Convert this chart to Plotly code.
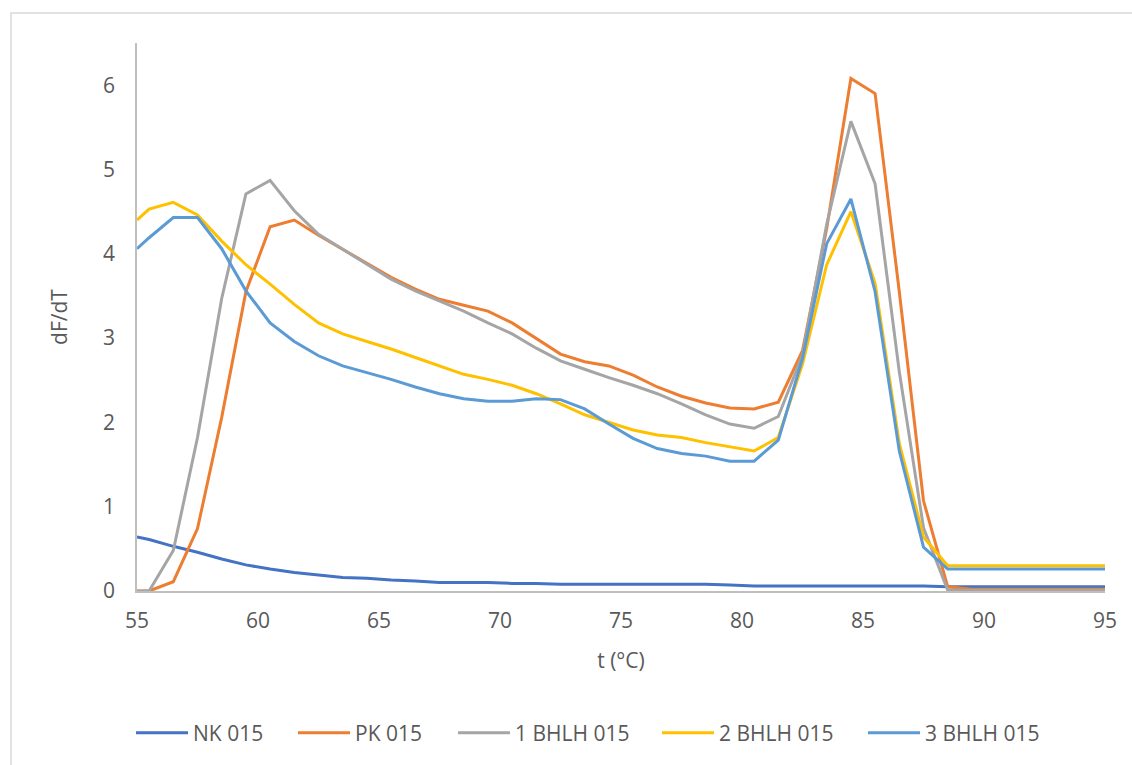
import plotly.graph_objects as go

# Temperatures (°C)
T = [55, 55.5, 56.5, 57.5, 58.5, 59.5, 60.5, 61.5, 62.5, 63.5, 64.5, 65.5, 66.5,
     67.5, 68.5, 69.5, 70.5, 71.5, 72.5, 73.5, 74.5, 75.5, 76.5, 77.5, 78.5,
     79.5, 80.5, 81.5, 82.5, 83.5, 84.5, 85.5, 86.5, 87.5, 88.5, 89.5, 90.5,
     91.5, 92.5, 93.5, 94.5, 95]

NK = [0.64, 0.61, 0.53, 0.46, 0.38, 0.31, 0.26, 0.22, 0.19, 0.16, 0.15, 0.13, 0.12,
      0.10, 0.10, 0.10, 0.09, 0.09, 0.08, 0.08, 0.08, 0.08, 0.08, 0.08, 0.08,
      0.07, 0.06, 0.06, 0.06, 0.06, 0.06, 0.06, 0.06, 0.06, 0.05, 0.05, 0.05,
      0.05, 0.05, 0.05, 0.05, 0.05]

PK = [0.0, 0.0, 0.11, 0.74, 2.06, 3.55, 4.32, 4.40, 4.22, 4.05, 3.88, 3.72, 3.58,
      3.46, 3.39, 3.32, 3.18, 3.00, 2.81, 2.72, 2.67, 2.56, 2.42, 2.31, 2.23,
      2.17, 2.16, 2.24, 2.85, 4.30, 6.08, 5.90, 3.55, 1.07, 0.05, 0.02, 0.02,
      0.02, 0.02, 0.02, 0.02, 0.02]

BHLH1 = [0.0, 0.0, 0.48, 1.82, 3.47, 4.71, 4.87, 4.51, 4.23, 4.05, 3.88, 3.70, 3.56,
         3.44, 3.32, 3.18, 3.05, 2.88, 2.73, 2.63, 2.53, 2.44, 2.34, 2.22, 2.09,
         1.98, 1.93, 2.07, 2.80, 4.35, 5.57, 4.83, 2.60, 0.75, 0.01, 0.01, 0.01,
         0.01, 0.01, 0.01, 0.01, 0.01]

BHLH2 = [4.40, 4.53, 4.61, 4.46, 4.15, 3.87, 3.64, 3.40, 3.18, 3.05, 2.96, 2.87, 2.77,
         2.67, 2.57, 2.51, 2.44, 2.34, 2.22, 2.09, 2.00, 1.91, 1.85, 1.82, 1.76,
         1.71, 1.66, 1.82, 2.69, 3.87, 4.50, 3.65, 1.75, 0.64, 0.30, 0.30, 0.30,
         0.30, 0.30, 0.30, 0.30, 0.30]

BHLH3 = [4.06, 4.19, 4.43, 4.43, 4.06, 3.56, 3.18, 2.96, 2.79, 2.67, 2.59, 2.51, 2.42,
         2.34, 2.28, 2.25, 2.25, 2.28, 2.27, 2.16, 1.98, 1.81, 1.69, 1.63, 1.60,
         1.54, 1.54, 1.79, 2.76, 4.12, 4.65, 3.55, 1.66, 0.52, 0.26, 0.26, 0.26,
         0.26, 0.26, 0.26, 0.26, 0.26]

NAMES = ["NK 015", "PK 015", "1 BHLH 015", "2 BHLH 015", "3 BHLH 015"]
COLORS = ["#4472C4", "#ED7D31", "#A5A5A5", "#FFC000", "#5B9BD5"]
SERIES = [NK, PK, BHLH1, BHLH2, BHLH3]

W, H = 1132, 765
ML, MR, MT, MB = 137, 27, 43, 174
PW, PH = W - ML - MR, H - MT - MB

def px_x(p):
    return (p - ML) / PW

def px_y(p):
    return (H - MB - p) / PH

FONT = "Open Sans, Noto Sans, sans-serif"
TXT = "#595959"
FS = 21

# left pixel where each legend entry's line sample begins
LEG_LEFT = [137, 299, 459, 663, 869]

fig = go.Figure()
legends = {}
for i, (name, col, ys) in enumerate(zip(NAMES, COLORS, SERIES)):
    key = "legend" if i == 0 else f"legend{i + 1}"
    fig.add_trace(go.Scatter(x=T, y=ys, mode="lines", name=name,
                             line=dict(color=col, width=3), legend=key))
    legends[key] = dict(orientation="h", x=px_x(LEG_LEFT[i] - 6), xanchor="left",
                        y=px_y(733), yanchor="middle", bgcolor="rgba(0,0,0,0)",
                        font=dict(size=FS, color=TXT), itemwidth=52)

fig.update_layout(
    width=W, height=H,
    margin=dict(l=ML, r=MR, t=MT, b=MB),
    paper_bgcolor="white", plot_bgcolor="white",
    font=dict(family=FONT, size=FS, color=TXT),
    showlegend=True,
    xaxis=dict(range=[55, 95], dtick=5, tick0=55, showgrid=False, zeroline=False,
               showline=True, linecolor="#BFBFBF", linewidth=1.5,
               ticks="outside", ticklen=10, tickcolor="rgba(0,0,0,0)",
               tickfont=dict(size=FS, color=TXT),
               title=dict(text="t (°C)", font=dict(size=FS, color=TXT), standoff=20)),
    yaxis=dict(range=[0, 6.5], dtick=1, tick0=0, showgrid=False, zeroline=False,
               showline=True, linecolor="#BFBFBF", linewidth=1.5,
               ticks="outside", ticklen=16, tickcolor="rgba(0,0,0,0)",
               tickfont=dict(size=FS, color=TXT),
               title=dict(text="dF/dT", font=dict(size=FS, color=TXT), standoff=30)),
    shapes=[dict(type="rect", xref="paper", yref="paper",
                 x0=px_x(11), x1=px_x(1145), y0=px_y(780), y1=px_y(13),
                 line=dict(color="#D9D9D9", width=1.5), fillcolor="rgba(0,0,0,0)",
                 layer="below")],
    **legends,
)

fig.write_html("out.html")
